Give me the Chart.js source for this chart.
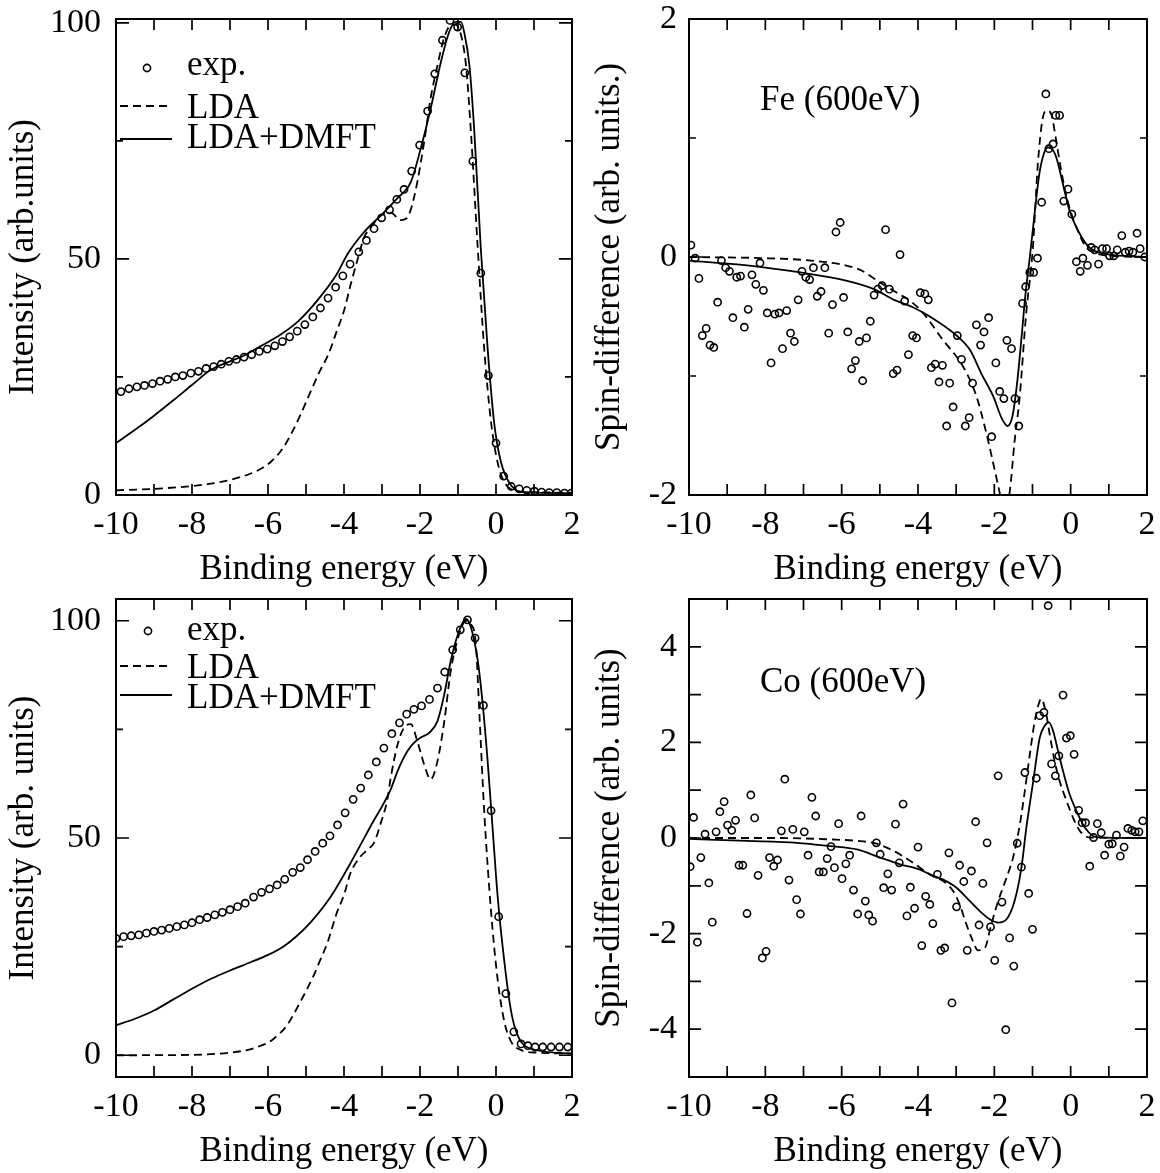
<!DOCTYPE html>
<html>
<head>
<meta charset="utf-8">
<script src="https://cdn.jsdelivr.net/npm/chart.js@4.4.1/dist/chart.umd.min.js"></script>
<style>
  html, body { margin: 0; padding: 0; background: #fff; }
  body { width: 1160px; height: 1173px; position: relative; overflow: hidden; }
  canvas { position: absolute; }
</style>
</head>
<body>
<canvas id="c1" width="580" height="590" style="left:0;top:0"></canvas>
<canvas id="c2" width="580" height="590" style="left:580px;top:0"></canvas>
<canvas id="c3" width="580" height="593" style="left:0;top:580px"></canvas>
<canvas id="c4" width="580" height="593" style="left:580px;top:580px"></canvas>
<script>
// ---- x axis (binding energy, eV) shared by all panels
const xLabels = [-10, -8, -6, -4, -2, 0, 2];
const xMinor = [-9, -8, -7, -6, -5, -4, -3, -2, -1, 0, 1];

// ---- top left: Fe intensity
const feIntExpX = [-9.87, -9.66, -9.45, -9.25, -9.04, -8.84, -8.64, -8.44, -8.24, -8.03, -7.83, -7.63, -7.43, -7.23, -7.03, -6.83, -6.63, -6.43, -6.23, -6.02, -5.82, -5.62, -5.43, -5.23, -5.03, -4.82, -4.62, -4.42, -4.22, -4.03, -3.84, -3.61, -3.41, -3.21, -3.01, -2.80, -2.61, -2.42, -2.22, -2.01, -1.80, -1.61, -1.41, -1.21, -1.01, -0.82, -0.61, -0.40, -0.20, 0.00, 0.20, 0.40, 0.61, 0.81, 1.01, 1.20, 1.40, 1.60, 1.80, 1.98];
const feIntExpY = [21.9, 22.5, 22.9, 23.2, 23.6, 24.1, 24.5, 25.0, 25.3, 25.8, 26.2, 26.8, 27.2, 27.7, 28.3, 28.7, 29.2, 29.7, 30.4, 30.9, 31.6, 32.5, 33.5, 34.7, 36.1, 37.7, 39.6, 41.7, 44.0, 46.4, 48.9, 51.5, 53.9, 56.4, 58.7, 60.4, 62.6, 64.7, 68.6, 74.1, 81.3, 89.2, 96.3, 100.5, 99.1, 89.4, 70.7, 47.0, 25.3, 11.0, 4.0, 1.8, 1.3, 1.0, 0.8, 0.6, 0.5, 0.5, 0.4, 0.4];
const feIntLdaX = [-10, -9, -8, -7.5, -7, -6.5, -6.2, -5.9, -5.6, -5.4, -5.15, -4.9, -4.65, -4.4, -4.2, -4.0, -3.83, -3.61, -3.47, -3.3, -3.03, -2.77, -2.51, -2.35, -2.24, -2.07, -1.89, -1.72, -1.54, -1.37, -1.19, -1.06, -0.92, -0.79, -0.66, -0.48, -0.31, -0.13, 0.04, 0.22, 0.48, 0.92, 2.0];
const feIntLdaY = [1.0, 1.3, 1.9, 2.4, 3.2, 4.4, 5.5, 7.2, 10.0, 12.8, 16.9, 21.5, 26.0, 30.0, 34.5, 39.0, 44.4, 50.8, 54.6, 56.6, 59.2, 59.8, 58.2, 58.6, 60.5, 66.3, 74.8, 84.0, 91.0, 96.7, 99.5, 99.6, 97.4, 91.0, 76.9, 52.2, 31.0, 15.4, 7.0, 2.7, 1.0, 0.6, 0.5];
const feIntDmftX = [-10, -9.5, -9.0, -8.5, -8.0, -7.52, -7.0, -6.64, -6.2, -5.76, -5.23, -4.70, -4.18, -3.91, -3.47, -3.03, -2.60, -2.24, -1.98, -1.72, -1.45, -1.23, -1.06, -0.92, -0.84, -0.70, -0.57, -0.40, -0.22, -0.05, 0.13, 0.40, 0.75, 2.0];
const feIntDmftY = [11.0, 13.8, 16.8, 20.0, 23.3, 26.4, 28.3, 29.5, 31.5, 33.5, 36.6, 41.2, 46.9, 51.0, 55.7, 59.2, 62.8, 66.3, 73.4, 81.8, 91.7, 98.1, 100.2, 100.2, 98.1, 91.0, 76.9, 52.2, 31.0, 15.4, 7.0, 2.0, 0.6, 0.4];

// ---- top right: Fe spin difference
const feSpinExpX = [-9.95, -9.84, -9.74, -9.65, -9.55, -9.45, -9.35, -9.25, -9.15, -9.04, -8.94, -8.85, -8.75, -8.65, -8.55, -8.45, -8.35, -8.25, -8.14, -8.05, -7.95, -7.85, -7.75, -7.64, -7.55, -7.44, -7.34, -7.24, -7.14, -7.04, -6.94, -6.84, -6.74, -6.64, -6.54, -6.44, -6.34, -6.24, -6.15, -6.04, -5.95, -5.84, -5.74, -5.64, -5.54, -5.45, -5.35, -5.25, -5.15, -5.05, -4.94, -4.85, -4.75, -4.65, -4.55, -4.47, -4.35, -4.25, -4.14, -4.04, -3.94, -3.82, -3.73, -3.65, -3.55, -3.45, -3.36, -3.25, -3.17, -3.08, -2.97, -2.86, -2.76, -2.66, -2.57, -2.47, -2.36, -2.27, -2.15, -2.07, -1.96, -1.86, -1.75, -1.67, -1.55, -1.46, -1.36, -1.26, -1.18, -1.07, -0.97, -0.87, -0.76, -0.65, -0.57, -0.46, -0.39, -0.29, -0.18, -0.07, 0.03, 0.15, 0.25, 0.32, 0.44, 0.54, 0.63, 0.73, 0.83, 0.94, 1.02, 1.13, 1.22, 1.34, 1.43, 1.53, 1.63, 1.74, 1.82, 1.94];
const feSpinExpY = [0.10, -0.01, -0.18, -0.66, -0.60, -0.74, -0.76, -0.38, -0.03, -0.09, -0.12, -0.51, -0.17, -0.16, -0.59, -0.44, -0.15, -0.23, -0.05, -0.28, -0.47, -0.89, -0.48, -0.47, -0.77, -0.45, -0.64, -0.71, -0.36, -0.12, -0.17, -0.19, -0.09, -0.33, -0.29, -0.09, -0.64, -0.40, 0.21, 0.29, -0.34, -0.63, -0.94, -0.87, -0.71, -1.04, -0.68, -0.54, -0.32, -0.27, -0.24, 0.23, -0.27, -0.98, -0.95, 0.02, -0.37, -0.82, -0.66, -0.68, -0.30, -0.31, -0.36, -0.93, -0.90, -1.05, -0.91, -1.42, -1.06, -1.26, -0.66, -0.86, -1.42, -1.35, -1.06, -0.57, -0.74, -0.63, -0.51, -1.51, -0.89, -1.13, -1.19, -0.70, -0.77, -1.19, -1.42, -0.39, -0.25, -0.13, -0.13, -0.01, 0.46, 1.37, 0.91, 0.95, 1.19, 1.19, 0.47, 0.57, 0.36, -0.04, -0.12, -0.01, -0.07, 0.08, 0.06, -0.06, 0.07, 0.07, 0.01, 0.01, 0.06, 0.18, 0.04, 0.05, 0.04, 0.20, 0.07, 0.00];
const feSpinLdaX = [-10, -8, -6.8, -5.9, -5.5, -5.2, -4.87, -4.5, -4.2, -3.87, -3.34, -2.82, -2.47, -2.21, -1.99, -1.86, -1.75, -1.6, -1.47, -1.34, -1.17, -0.99, -0.86, -0.73, -0.62, -0.51, -0.38, -0.25, -0.08, 0.15, 0.41, 0.67, 1.02, 2.0];
const feSpinLdaY = [0.0, -0.01, -0.03, -0.07, -0.11, -0.17, -0.24, -0.31, -0.37, -0.47, -0.70, -0.92, -1.17, -1.48, -1.79, -1.98, -2.12, -1.98, -1.55, -1.19, -0.49, 0.08, 0.78, 1.17, 1.23, 1.20, 0.98, 0.73, 0.47, 0.25, 0.08, 0.03, 0.01, 0.0];
const feSpinDmftX = [-10, -8.48, -7.08, -5.86, -5.15, -4.63, -4.15, -3.69, -2.99, -2.64, -2.34, -2.03, -1.80, -1.65, -1.52, -1.40, -1.28, -1.18, -1.07, -0.95, -0.82, -0.70, -0.60, -0.50, -0.38, -0.20, -0.03, 0.23, 0.49, 0.84, 2.0];
const feSpinDmftY = [-0.03, -0.07, -0.13, -0.20, -0.27, -0.36, -0.42, -0.50, -0.66, -0.78, -0.98, -1.17, -1.36, -1.42, -1.33, -1.05, -0.65, -0.30, 0.0, 0.35, 0.70, 0.87, 0.92, 0.91, 0.84, 0.61, 0.39, 0.20, 0.08, 0.03, 0.0];

// ---- bottom left: Co intensity
const coIntExpX = [-10.0, -9.8, -9.6, -9.4, -9.2, -9.0, -8.8, -8.6, -8.4, -8.2, -8.0, -7.8, -7.6, -7.4, -7.2, -7.0, -6.8, -6.6, -6.38, -6.17, -5.96, -5.76, -5.56, -5.35, -5.15, -4.96, -4.76, -4.56, -4.37, -4.17, -3.97, -3.76, -3.56, -3.36, -3.15, -2.95, -2.74, -2.54, -2.35, -2.16, -1.96, -1.75, -1.54, -1.35, -1.14, -0.94, -0.75, -0.55, -0.33, -0.13, 0.07, 0.26, 0.47, 0.66, 0.84, 1.03, 1.23, 1.45, 1.67, 1.89];
const coIntExpY = [26.9, 27.3, 27.5, 27.7, 28.1, 28.5, 28.8, 29.2, 29.6, 30.0, 30.5, 31.2, 31.7, 32.3, 32.9, 33.5, 34.2, 35.0, 36.4, 37.5, 38.3, 39.2, 40.5, 42.1, 43.2, 45.0, 46.9, 48.8, 50.5, 53.0, 55.8, 58.9, 61.5, 64.5, 67.5, 70.7, 74.0, 76.5, 78.5, 79.6, 80.4, 81.9, 84.5, 88.2, 93.3, 97.9, 100.2, 96.0, 80.5, 56.3, 31.9, 14.2, 5.4, 2.6, 2.2, 1.9, 1.9, 1.9, 1.9, 1.9];
const coIntLdaX = [-10, -8, -7, -6.5, -6.29, -6.0, -5.85, -5.5, -5.15, -4.79, -4.66, -4.44, -4.18, -4.0, -3.83, -3.56, -3.38, -3.21, -3.03, -2.86, -2.77, -2.59, -2.42, -2.24, -2.07, -1.89, -1.72, -1.54, -1.36, -1.19, -0.97, -0.79, -0.66, -0.53, -0.44, -0.31, -0.13, 0.04, 0.22, 0.40, 0.66, 1.10, 2.0];
const coIntLdaY = [0.0, 0.1, 0.6, 1.3, 1.9, 2.9, 3.8, 6.9, 12.3, 18.5, 21.2, 25.8, 33.0, 36.9, 41.9, 45.8, 47.3, 48.9, 53.5, 58.8, 63.9, 71.5, 75.4, 76.2, 72.3, 66.9, 63.5, 67.7, 76.9, 88.5, 96.9, 100.0, 99.2, 94.6, 79.2, 56.1, 33.1, 17.7, 7.7, 3.1, 1.2, 0.6, 0.4];
const coIntDmftX = [-10, -9.5, -9.0, -8.5, -8.0, -7.5, -7.0, -6.46, -6.0, -5.6, -5.25, -4.88, -4.35, -3.83, -3.30, -2.77, -2.59, -2.33, -2.16, -1.98, -1.76, -1.54, -1.36, -1.19, -0.97, -0.79, -0.66, -0.48, -0.35, -0.22, -0.09, 0.04, 0.22, 0.40, 0.57, 0.92, 2.0];
const coIntDmftY = [6.9, 8.4, 10.3, 12.8, 15.3, 17.6, 19.5, 21.4, 23.1, 25.0, 27.4, 30.6, 36.5, 44.2, 52.7, 61.2, 65.4, 70.0, 71.9, 73.1, 74.2, 76.9, 83.1, 90.8, 97.7, 100.4, 98.5, 90.8, 80.8, 67.7, 52.3, 36.9, 21.5, 10.0, 4.6, 1.5, 0.4];

// ---- bottom right: Co spin difference
const coSpinExpX = [-9.97, -9.88, -9.78, -9.69, -9.58, -9.48, -9.39, -9.29, -9.19, -9.08, -8.99, -8.88, -8.78, -8.69, -8.59, -8.48, -8.38, -8.28, -8.19, -8.08, -7.98, -7.89, -7.78, -7.68, -7.58, -7.49, -7.38, -7.28, -7.18, -7.08, -6.98, -6.88, -6.78, -6.68, -6.59, -6.48, -6.38, -6.28, -6.19, -6.08, -5.99, -5.89, -5.79, -5.69, -5.58, -5.49, -5.38, -5.29, -5.19, -5.09, -4.99, -4.90, -4.79, -4.69, -4.59, -4.49, -4.39, -4.29, -4.20, -4.09, -4.00, -3.90, -3.80, -3.69, -3.61, -3.49, -3.40, -3.30, -3.19, -3.11, -2.99, -2.91, -2.80, -2.71, -2.60, -2.49, -2.40, -2.30, -2.19, -2.10, -1.99, -1.90, -1.80, -1.70, -1.60, -1.49, -1.40, -1.29, -1.20, -1.10, -1.00, -0.90, -0.81, -0.70, -0.59, -0.50, -0.40, -0.31, -0.20, -0.11, -0.01, 0.09, 0.21, 0.30, 0.39, 0.50, 0.60, 0.70, 0.80, 0.89, 1.00, 1.09, 1.20, 1.30, 1.40, 1.50, 1.60, 1.69, 1.79, 1.89];
const coSpinExpY = [-0.60, 0.43, -2.18, -0.41, 0.08, -0.94, -1.76, 0.13, 0.55, 0.76, 0.27, 0.16, 0.37, -0.57, -0.57, -1.58, 0.90, 0.42, -0.78, -2.51, -2.37, -0.41, -0.59, -0.46, 0.15, 1.23, -0.88, 0.18, -1.29, -1.59, 0.13, -0.36, 0.85, 0.46, -0.71, -0.71, -0.43, -0.18, -0.62, 0.30, -0.85, -0.54, -0.36, -1.09, -1.59, 0.46, -1.32, -1.61, -1.74, -0.10, -0.34, -1.04, -0.75, -1.09, 0.29, -0.52, 0.71, -1.63, -1.03, -1.47, -0.19, -2.25, -1.22, -1.39, -1.79, -0.76, -2.35, -2.30, -0.31, -3.45, -1.44, -0.57, -0.91, -2.35, -0.69, 0.34, -1.82, -0.95, -0.10, -1.86, -2.56, 1.30, -1.34, -4.01, -2.09, -2.68, -0.11, -0.61, 1.37, -1.16, -1.91, 1.25, 2.56, 2.63, 4.86, 1.55, 1.30, 1.72, 2.99, 2.09, 2.14, 1.75, 0.58, 0.32, 0.32, -0.59, 0.01, 0.30, 0.11, -0.36, -0.13, -0.12, 0.06, -0.38, -0.19, 0.20, 0.16, 0.13, 0.13, 0.36];
const coSpinLdaX = [-10, -7.6, -6.3, -5.6, -5.09, -4.64, -4.2, -3.95, -3.61, -3.34, -3.08, -2.91, -2.73, -2.56, -2.43, -2.25, -2.08, -1.90, -1.68, -1.51, -1.33, -1.20, -1.07, -0.94, -0.81, -0.77, -0.64, -0.55, -0.42, -0.29, -0.11, 0.06, 0.24, 0.50, 2.0];
const coSpinLdaY = [0.0, 0.0, -0.03, -0.06, -0.12, -0.27, -0.48, -0.62, -0.80, -0.90, -1.11, -1.39, -1.81, -2.16, -2.35, -2.30, -1.81, -1.32, -0.83, -0.41, 0.29, 0.99, 1.75, 2.45, 2.87, 2.91, 2.59, 2.17, 1.61, 1.19, 0.78, 0.43, 0.15, 0.01, 0.0];
const coSpinDmftX = [-10, -8.48, -7.17, -6.3, -5.6, -4.99, -4.47, -3.95, -3.69, -3.34, -2.99, -2.64, -2.38, -2.12, -1.90, -1.68, -1.47, -1.29, -1.16, -0.98, -0.81, -0.68, -0.57, -0.46, -0.33, -0.20, -0.03, 0.15, 0.37, 0.67, 2.0];
const coSpinDmftY = [-0.02, -0.06, -0.10, -0.17, -0.24, -0.41, -0.55, -0.66, -0.76, -0.87, -1.04, -1.32, -1.53, -1.70, -1.77, -1.70, -1.32, -0.62, 0.22, 1.19, 2.10, 2.35, 2.42, 2.24, 1.82, 1.40, 0.92, 0.57, 0.22, 0.02, 0.0];

// ---- y ticks
const intLabels = [0, 50, 100];
const intMinor = [25, 75];
const feSpinLabels = [-2, 0, 2];
const feSpinMinor = [-1, 1];
const coSpinLabels = [-4, -2, 0, 2, 4];
const coSpinMinor = [-5, -3, -1, 1, 3, 5];

const legendNames = ['exp.', 'LDA', 'LDA+DMFT'];

Chart.defaults.font.family = "'Liberation Serif', 'Times New Roman', serif";
Chart.defaults.color = '#000';

const pts = (xs, ys) => xs.map((x, i) => ({ x, y: ys[i] }));

// frame, inward ticks on all sides, legend and label text
const panelDecor = {
  id: 'panelDecor',
  afterDraw(chart, args, o) {
    const { ctx, chartArea: a, scales: { x, y } } = chart;
    ctx.save();
    ctx.strokeStyle = '#000';
    ctx.lineWidth = 2;
    ctx.strokeRect(a.left, a.top, a.right - a.left, a.bottom - a.top);

    ctx.lineWidth = 1.7;
    ctx.beginPath();
    xMinor.forEach(v => {
      const p = x.getPixelForValue(v);
      ctx.moveTo(p, a.bottom); ctx.lineTo(p, a.bottom - 11);
      ctx.moveTo(p, a.top); ctx.lineTo(p, a.top + 11);
    });
    const yTick = (v, len) => {
      const p = y.getPixelForValue(v);
      ctx.moveTo(a.left, p); ctx.lineTo(a.left + len, p);
      ctx.moveTo(a.right, p); ctx.lineTo(a.right - len, p);
    };
    o.yMajor.forEach(v => yTick(v, o.majorLen));
    o.yMinor.forEach(v => yTick(v, o.minorLen));
    ctx.stroke();

    ctx.fillStyle = '#000';
    ctx.font = "35px 'Liberation Serif', serif";
    ctx.textBaseline = 'alphabetic';
    if (o.legend) {
      const L = o.legend;
      // circle row
      ctx.lineWidth = 1.6;
      ctx.beginPath();
      ctx.arc(L.cx, L.rows[0], 3.6, 0, Math.PI * 2);
      ctx.stroke();
      // dashed row
      ctx.lineWidth = 1.8;
      ctx.setLineDash([8, 5]);
      ctx.beginPath();
      ctx.moveTo(L.x0, L.rows[1]); ctx.lineTo(L.x1, L.rows[1]);
      ctx.stroke();
      ctx.setLineDash([]);
      ctx.beginPath();
      ctx.moveTo(L.x0, L.rows[2]); ctx.lineTo(L.x1, L.rows[2]);
      ctx.stroke();
      legendNames.forEach((t, i) => ctx.fillText(t, L.tx, L.base[i]));
    }
    if (o.note) ctx.fillText(o.note.text, o.note.x, o.note.y);
    ctx.restore();
  }
};

function makePanel(id, p) {
  new Chart(document.getElementById(id), {
    type: 'scatter',
    data: {
      datasets: [
        {
          label: legendNames[0], data: pts(p.expX, p.expY), showLine: false,
          pointStyle: 'circle', pointRadius: 3.6, pointBorderWidth: 1.6,
          pointBackgroundColor: 'rgba(0,0,0,0)', borderColor: '#000'
        },
        {
          label: legendNames[1], data: pts(p.ldaX, p.ldaY), showLine: true,
          pointRadius: 0, borderColor: '#000', borderWidth: 1.8, borderDash: [8, 5],
          cubicInterpolationMode: 'monotone'
        },
        {
          label: legendNames[2], data: pts(p.dmftX, p.dmftY), showLine: true,
          pointRadius: 0, borderColor: '#000', borderWidth: 1.8,
          cubicInterpolationMode: 'monotone'
        }
      ]
    },
    options: {
      responsive: false,
      animation: false,
      events: [],
      layout: { autoPadding: false, padding: p.pad },
      scales: {
        x: {
          type: 'linear', position: 'bottom', min: -10, max: 2,
          afterBuildTicks: s => { s.ticks = xLabels.map(v => ({ value: v })); },
          afterFit: s => { s.height = 92; s.paddingLeft = 0; s.paddingRight = 0; },
          grid: { display: false, drawTicks: false },
          border: { display: false },
          ticks: { padding: 13, font: { size: 34, lineHeight: 1 }, maxRotation: 0, autoSkip: false, callback: v => String(v) },
          title: { display: true, text: 'Binding energy (eV)', font: { size: 35, lineHeight: 1 }, padding: { top: 0, bottom: 0 } }
        },
        y: {
          type: 'linear', position: 'left', min: p.yMin, max: p.yMax,
          afterBuildTicks: s => { s.ticks = p.yLabels.map(v => ({ value: v })); },
          afterFit: s => { s.width = p.yWidth; s.paddingTop = 0; s.paddingBottom = 0; },
          grid: { display: false, drawTicks: false },
          border: { display: false },
          ticks: { padding: p.yPad, font: { size: 34, lineHeight: 1 }, autoSkip: false, callback: v => String(v) },
          title: { display: true, text: p.yTitle, font: { size: 35, lineHeight: 1 }, padding: { top: p.yTitlePad, bottom: 0 } }
        }
      },
      plugins: {
        legend: { display: false },
        tooltip: { enabled: false },
        panelDecor: {
          yMajor: p.yLabels, yMinor: p.yMinor, majorLen: p.majorLen, minorLen: p.minorLen,
          legend: p.legend || null, note: p.note || null
        }
      }
    },
    plugins: [panelDecor]
  });
}

makePanel('c1', {
  expX: feIntExpX, expY: feIntExpY, ldaX: feIntLdaX, ldaY: feIntLdaY, dmftX: feIntDmftX, dmftY: feIntDmftY,
  pad: { left: 0, top: 19, right: 8, bottom: 3 },
  yMin: 0, yMax: 100.8, yLabels: intLabels, yMinor: intMinor, yWidth: 116, yPad: 15,
  yTitle: 'Intensity (arb.units)', yTitlePad: 6, majorLen: 13, minorLen: 7,
  legend: { cx: 147, x0: 120, x1: 172, tx: 187, rows: [68, 106, 139], base: [75, 118, 148] }
});

makePanel('c2', {
  expX: feSpinExpX, expY: feSpinExpY, ldaX: feSpinLdaX, ldaY: feSpinLdaY, dmftX: feSpinDmftX, dmftY: feSpinDmftY,
  pad: { left: 0, top: 19, right: 13, bottom: 3 },
  yMin: -2, yMax: 2, yLabels: feSpinLabels, yMinor: feSpinMinor, yWidth: 109, yPad: 12,
  yTitle: 'Spin-difference (arb. units.)', yTitlePad: 12, majorLen: 13, minorLen: 7,
  note: { text: 'Fe (600eV)', x: 180, y: 110 }
});

makePanel('c3', {
  expX: coIntExpX, expY: coIntExpY, ldaX: coIntLdaX, ldaY: coIntLdaY, dmftX: coIntDmftX, dmftY: coIntDmftY,
  pad: { left: 0, top: 19, right: 8, bottom: 4 },
  yMin: -5, yMax: 105, yLabels: intLabels, yMinor: intMinor, yWidth: 116, yPad: 15,
  yTitle: 'Intensity (arb. units)', yTitlePad: 6, majorLen: 13, minorLen: 7,
  legend: { cx: 148, x0: 120, x1: 172, tx: 187, rows: [51, 86, 115], base: [60, 98, 128] }
});

makePanel('c4', {
  expX: coSpinExpX, expY: coSpinExpY, ldaX: coSpinLdaX, ldaY: coSpinLdaY, dmftX: coSpinDmftX, dmftY: coSpinDmftY,
  pad: { left: 0, top: 19, right: 13, bottom: 4 },
  yMin: -5, yMax: 5, yLabels: coSpinLabels, yMinor: coSpinMinor, yWidth: 109, yPad: 12,
  yTitle: 'Spin-difference (arb. units)', yTitlePad: 12, majorLen: 12, minorLen: 12,
  note: { text: 'Co (600eV)', x: 180, y: 112 }
});
</script>
</body>
</html>
